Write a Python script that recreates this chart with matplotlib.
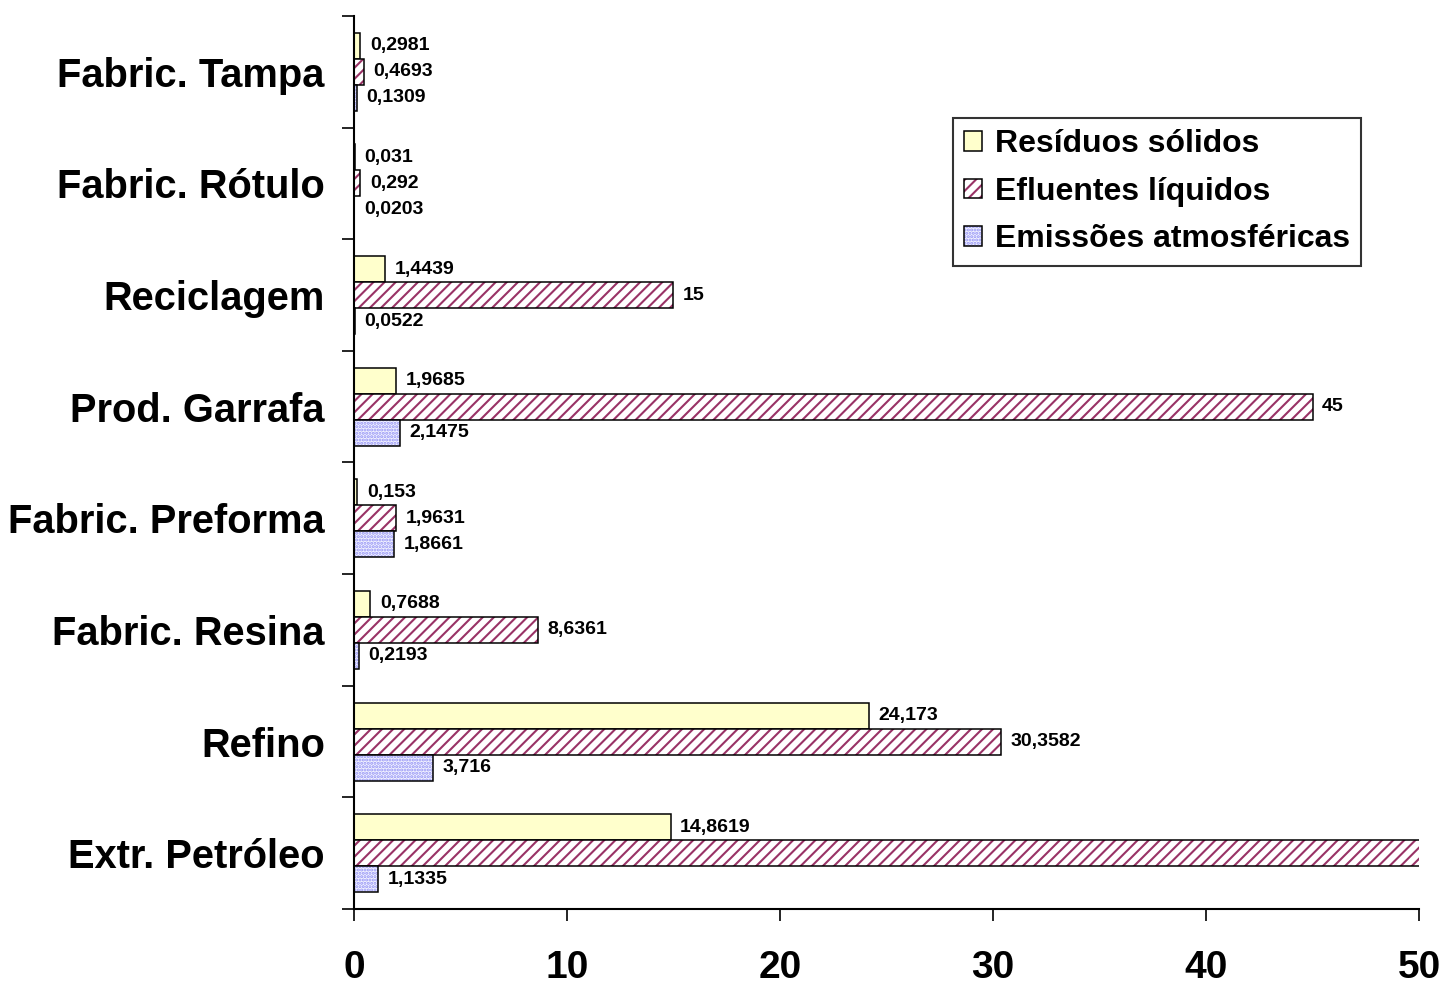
import matplotlib
matplotlib.use("Agg")
import matplotlib.pyplot as plt
from matplotlib.patches import Patch
import numpy as np

plt.rcParams['font.family'] = ['Liberation Sans', 'DejaVu Sans']
plt.rcParams['font.weight'] = 'bold'
plt.rcParams['hatch.linewidth'] = 1.5

# categories, bottom to top
stages = ["Extr. Petróleo", "Refino", "Fabric. Resina", "Fabric. Preforma",
          "Prod. Garrafa", "Reciclagem", "Fabric. Rótulo", "Fabric. Tampa"]
residuos = [14.8619, 24.173, 0.7688, 0.153, 1.9685, 1.4439, 0.031, 0.2981]
efluentes = [60.0, 30.3582, 8.6361, 1.9631, 45, 15, 0.292, 0.4693]   # first one runs off the chart
emissoes = [1.1335, 3.716, 0.2193, 1.8661, 2.1475, 0.0522, 0.0203, 0.1309]
series_names = ["Resíduos sólidos", "Efluentes líquidos", "Emissões atmosféricas"]
xticks = [0, 10, 20, 30, 40, 50]

XMAX = 50
bar_h = 0.233

fig = plt.figure(figsize=(14.56, 9.86), dpi=100)
ax = fig.add_axes([0.2431, 0.0781, 0.9746 - 0.2431, 0.9838 - 0.0781])

y = np.arange(len(stages))

def fmt(v):
    return f"{v:g}".replace(".", ",")

styles = [
    dict(face="#FFFFCC", hatch=None, hcolor=None),
    dict(face="white", hatch="///", hcolor="#993366"),
    dict(face="#F2F2FF", hatch=".....", hcolor="#9494F5"),
]
offsets = [bar_h, 0, -bar_h]
handles = []
for vals, st, off, name in zip([residuos, efluentes, emissoes], styles, offsets, series_names):
    pos = y + off
    if st["hatch"]:
        ax.barh(pos, vals, height=bar_h, color=st["face"], edgecolor=st["hcolor"],
                hatch=st["hatch"], linewidth=0)
    ax.barh(pos, vals, height=bar_h, facecolor=st["face"] if not st["hatch"] else "none",
            edgecolor="black", linewidth=1.1)
    for p, v in zip(pos, vals):
        if v <= XMAX:
            ax.text(v + 0.45, p, fmt(v), va="center", ha="left", fontsize=14,
                    fontweight="bold")
    hp = Patch(facecolor=st["face"], edgecolor=st["hcolor"] or "black",
               hatch=st["hatch"], linewidth=0)
    op = Patch(facecolor="none", edgecolor="black", linewidth=1.1)
    handles.append((hp, op))

ax.set_xlim(0, XMAX)
ax.set_ylim(-0.5, len(stages) - 0.5)

ax.set_xticks(xticks)
ax.set_xticklabels([str(t) for t in xticks], fontsize=28, fontweight="bold")
ax.tick_params(axis="x", direction="out", length=8.6, width=1.2, pad=21)

ax.set_yticks(np.arange(-0.5, len(stages), 1.0))
ax.set_yticklabels([])
ax.set_yticks(y, minor=True)
ax.set_yticklabels(stages, minor=True, fontsize=28.7, fontweight="bold")
ax.tick_params(axis="y", which="major", direction="out", length=8.6, width=1.2)
ax.tick_params(axis="y", which="minor", length=0, pad=21)

for s in ["top", "right"]:
    ax.spines[s].set_visible(False)
for s in ["left", "bottom"]:
    ax.spines[s].set_linewidth(1.5)

leg = fig.legend(handles, series_names, loc="upper left",
                 bbox_to_anchor=(953 / 1456, 1 - 118 / 986),
                 prop={"size": 23, "weight": "bold"}, frameon=True, fancybox=False,
                 edgecolor="black", handlelength=0.56, handleheight=0.56,
                 handletextpad=0.4, labelspacing=0.55, borderpad=0.35,
                 borderaxespad=0)
leg.get_frame().set_linewidth(1.5)

fig.savefig("out.png", dpi=100)
